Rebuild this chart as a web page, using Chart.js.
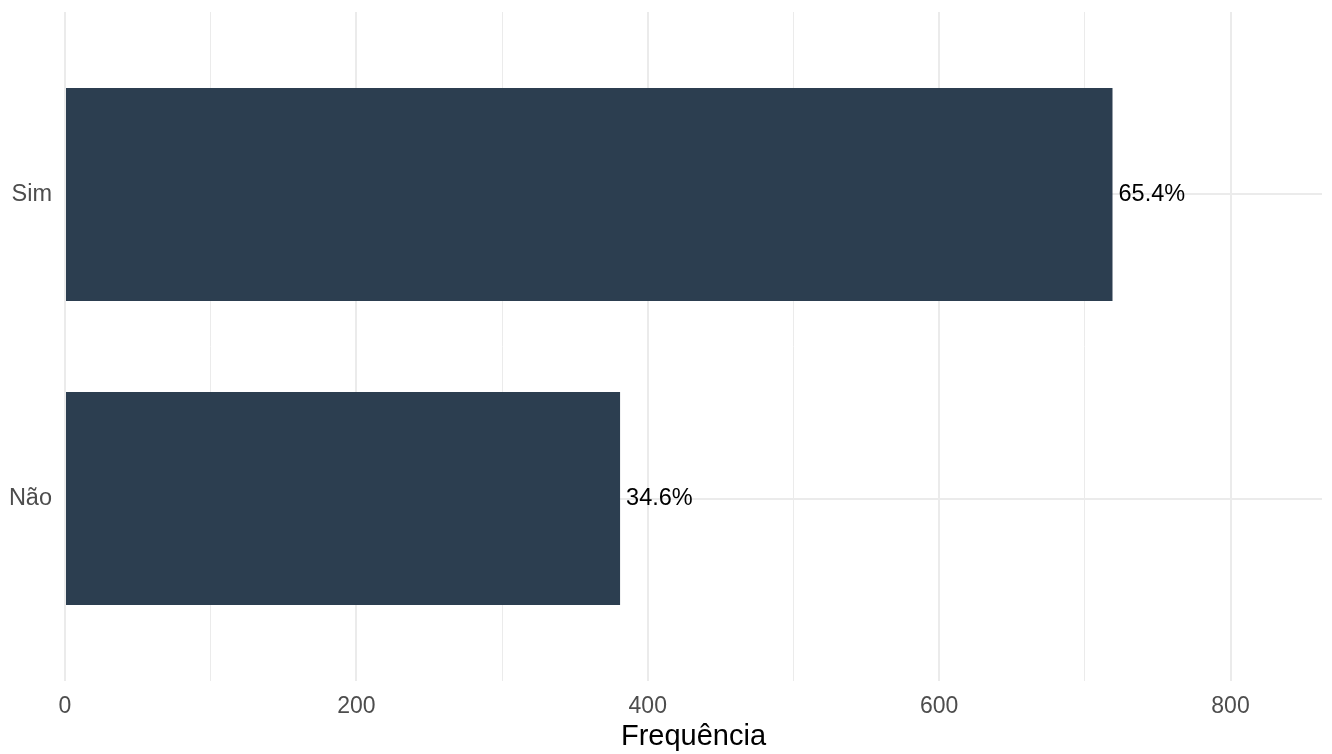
<!DOCTYPE html>
<html>
<head>
<meta charset="utf-8">
<script src="https://cdn.jsdelivr.net/npm/chart.js@4/dist/chart.umd.min.js"></script>
<style>
  html, body { margin: 0; padding: 0; background: #fff; }
  #wrap { width: 1332px; height: 754px; }
</style>
</head>
<body>
<div id="wrap"><canvas id="chart"></canvas></div>
<script>
// data
const categories = ['Sim', 'Não'];
const counts = [719, 381];
const xTicks = [0, 100, 200, 300, 400, 500, 600, 700, 800];
const xLabelTicks = [0, 200, 400, 600, 800];

const total = counts.reduce((a, b) => a + b, 0);
const barColor = '#2C3E50';
const gridColor = '#EBEBEB';
const fontFamily = "'Liberation Sans', Arial, sans-serif";

// Sim on top, Não below (ggplot puts first level at the bottom)
const points = categories.map((c, i) => ({ x: counts[i], y: categories.length - i }));
const yLabelFor = v => categories[categories.length - v];

// percentage labels at the end of each bar
const barLabels = {
  id: 'barLabels',
  afterDatasetsDraw(chart) {
    const ctx = chart.ctx;
    const meta = chart.getDatasetMeta(0);
    ctx.save();
    ctx.font = '23.5px ' + fontFamily;
    ctx.fillStyle = '#000';
    ctx.textAlign = 'left';
    ctx.textBaseline = 'middle';
    meta.data.forEach((bar, i) => {
      const pct = (counts[i] / total * 100).toFixed(1) + '%';
      ctx.fillText(pct, bar.x + 6, bar.y);
    });
    ctx.restore();
  }
};

const ctx = document.getElementById('chart').getContext('2d');
new Chart(ctx, {
  type: 'bar',
  data: {
    datasets: [{
      data: points,
      backgroundColor: barColor,
      borderWidth: 0,
      barPercentage: 0.7,
      categoryPercentage: 1
    }]
  },
  options: {
    indexAxis: 'y',
    responsive: true,
    maintainAspectRatio: false,
    animation: false,
    layout: { padding: { top: 12, right: 10, bottom: 0, left: 0 } },
    plugins: {
      legend: { display: false },
      tooltip: { enabled: false }
    },
    scales: {
      x: {
        type: 'linear',
        min: 0,
        max: 862.8,
        border: { display: false },
        afterBuildTicks: s => { s.ticks = xTicks.map(v => ({ value: v })); },
        afterFit: s => { s.height = 73; s.paddingLeft = 0; s.paddingRight = 0; },
        grid: {
          color: gridColor,
          drawTicks: false,
          lineWidth: c => (xLabelTicks.includes(c.tick.value) ? 2 : 1)
        },
        ticks: {
          autoSkip: false,
          padding: 12,
          color: '#4D4D4D',
          font: { family: fontFamily, size: 23 },
          callback: v => (xLabelTicks.includes(v) ? String(v) : '')
        },
        title: {
          display: true,
          text: 'Frequência',
          color: '#000',
          font: { family: fontFamily, size: 29 },
          padding: { top: 0, bottom: 0 }
        }
      },
      y: {
        type: 'linear',
        min: 0.4,
        max: 2.6,
        offset: false,
        border: { display: false },
        afterBuildTicks: s => { s.ticks = [{ value: 1 }, { value: 2 }]; },
        afterFit: s => { s.width = 65; s.paddingTop = 0; s.paddingBottom = 0; },
        grid: { color: gridColor, lineWidth: 2, drawTicks: false, offset: false },
        ticks: {
          padding: 13,
          color: '#4D4D4D',
          font: { family: fontFamily, size: 23.5 },
          callback: v => yLabelFor(v)
        }
      }
    }
  },
  plugins: [barLabels]
});
</script>
</body>
</html>
